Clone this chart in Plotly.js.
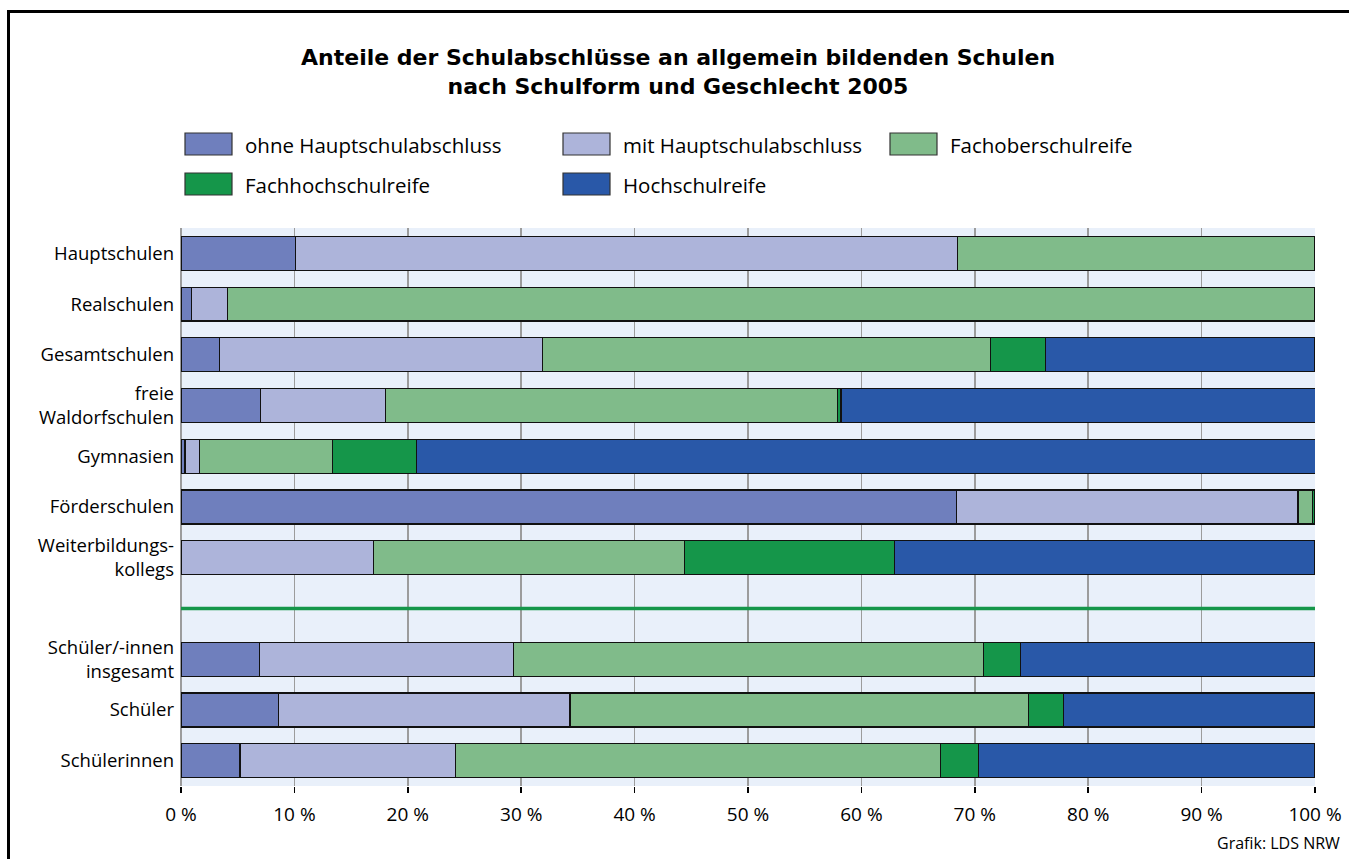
<!DOCTYPE html>
<html>
<head>
<meta charset="utf-8">
<script src="https://cdn.plot.ly/plotly-3.0.1.min.js"></script>
<style>
  html, body { margin: 0; padding: 0; background: #fff; overflow: hidden; }
  #chart { position: absolute; left: 0; top: 0; width: 1349px; height: 859px; }
  #frame {
    position: absolute; left: 7px; top: 10px; width: 1400px; height: 900px;
    border-left: 3px solid #000; border-top: 3px solid #000;
    pointer-events: none; z-index: 5;
  }
</style>
</head>
<body>
<div id="chart"></div>
<div id="frame"></div>
<script>
// Schulformen (Zeilen), Lücke vor den Gesamtzeilen
const categories = ['Hauptschulen', 'Realschulen', 'Gesamtschulen', 'freie<br>Waldorfschulen', 'Gymnasien',
  'Förderschulen', 'Weiterbildungs-<br>kollegs', 'Schüler/-innen<br>insgesamt', 'Schüler', 'Schülerinnen'];
const rowPos = [0, 1, 2, 3, 4, 5, 6, 8, 9, 10];
const separatorPos = 7;

// Anteile in %
const ohneHS = [10.1, 0.9, 3.4, 7.0, 0.35, 68.4, null, 6.9, 8.6, 5.2];
const mitHS = [58.4, 3.2, 28.5, 11.0, 1.3, 30.1, 17.0, 22.4, 25.7, 19.0];
const fachober = [31.5, 95.9, 39.5, 39.9, 11.7, 1.3, 27.4, 41.5, 40.4, 42.8];
const fachhoch = [null, null, 4.8, 0.3, 7.4, 0.2, 18.5, 3.2, 3.1, 3.3];
const hochschul = [null, null, 23.8, 41.9, 79.3, null, 37.1, 26.0, 22.2, 29.7];

const seriesNames = ['ohne Hauptschulabschluss', 'mit Hauptschulabschluss', 'Fachoberschulreife',
  'Fachhochschulreife', 'Hochschulreife'];
const seriesValues = [ohneHS, mitHS, fachober, fachhoch, hochschul];
const seriesColors = ['#6f7fbd', '#adb4da', '#80bb8a', '#15964a', '#2958a8'];

const titleLines = ['Anteile der Schulabschlüsse an allgemein bildenden Schulen',
  'nach Schulform und Geschlecht 2005'];
const xTicks = [0, 10, 20, 30, 40, 50, 60, 70, 80, 90, 100];

// Pixel -> paper Umrechnung (Plotfläche 181..1315 x 228..786)
const M = { l: 181, r: 34, t: 228, b: 73 };
const W = 1349, H = 859;
const pw = W - M.l - M.r, ph = H - M.t - M.b;
const px = x => (x - M.l) / pw;
const py = y => 1 - (y - M.t) / ph;

const FONT = 'Open Sans, Noto Sans, sans-serif';

const traces = seriesValues.map((vals, i) => ({
  type: 'bar',
  orientation: 'h',
  name: seriesNames[i],
  x: vals,
  y: rowPos,
  width: 0.67,
  marker: { color: seriesColors[i], line: { color: '#111', width: 1.2 } },
  hoverinfo: 'skip'
}));

const shapes = [];
const annotations = [];

// Titel, zwei Zeilen
annotations.push({
  xref: 'paper', yref: 'paper', x: px(678), y: py(72),
  xanchor: 'center', yanchor: 'middle', showarrow: false,
  text: titleLines.map(t => '<b>' + t + '</b>').join('<br>'),
  font: { family: 'DejaVu Sans, sans-serif', size: 22, color: '#000' }
});

// Legende von Hand: Kästchen 47x22
const legendSlots = [[185, 133], [563, 133], [890, 133], [185, 173], [563, 173]];
seriesNames.forEach((name, i) => {
  const [lx, ly] = legendSlots[i];
  shapes.push({
    type: 'rect', xref: 'paper', yref: 'paper',
    x0: px(lx), x1: px(lx + 47), y0: py(ly), y1: py(ly + 22),
    fillcolor: seriesColors[i], line: { color: '#333', width: 1.2 }
  });
  annotations.push({
    xref: 'paper', yref: 'paper', x: px(lx + 58), y: py(ly + 12),
    xanchor: 'left', yanchor: 'middle', showarrow: false,
    text: name, font: { family: FONT, size: 20.5, color: '#000' }
  });
});

// grüne Trennlinie
shapes.push({
  type: 'line', xref: 'paper', yref: 'y', x0: 0, x1: 1, y0: separatorPos, y1: separatorPos,
  line: { color: '#15964a', width: 3.5 }
});

annotations.push({
  xref: 'paper', yref: 'paper', x: px(1342), y: py(843),
  xanchor: 'right', yanchor: 'middle', showarrow: false,
  text: 'Grafik: LDS NRW', font: { family: FONT, size: 16, color: '#000' }
});

const layout = {
  width: W, height: H,
  margin: M,
  paper_bgcolor: '#fff',
  plot_bgcolor: '#e9f0fa',
  barmode: 'stack',
  showlegend: false,
  font: { family: FONT, size: 18, color: '#000' },
  xaxis: {
    range: [0, 100],
    tickvals: xTicks,
    ticktext: xTicks.map(v => v + ' %'),
    showgrid: true, gridcolor: '#9c9c9c', gridwidth: 1.5,
    zeroline: true, zerolinecolor: '#9c9c9c', zerolinewidth: 1.5,
    ticks: 'outside', ticklen: 6, tickwidth: 1.5, tickcolor: '#000',
    ticklabelstandoff: 5,
    tickfont: { family: FONT, size: 19, color: '#000' },
    fixedrange: true
  },
  yaxis: {
    range: [10.5, -0.5],
    tickvals: rowPos,
    ticktext: categories,
    showgrid: false, zeroline: false,
    ticks: '', ticklabelstandoff: 6,
    tickfont: { family: FONT, size: 18.5, color: '#000' },
    fixedrange: true
  },
  shapes,
  annotations
};

Plotly.newPlot('chart', traces, layout, { staticPlot: true });
</script>
</body>
</html>
